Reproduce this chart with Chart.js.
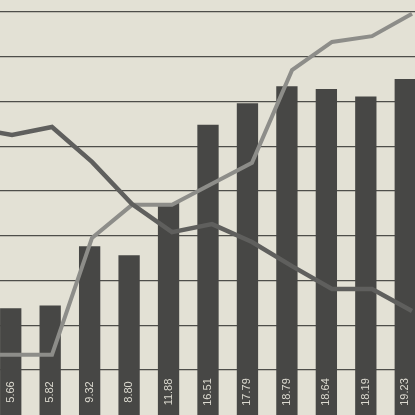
<!DOCTYPE html>
<html>
<head>
<meta charset="utf-8">
<script src="https://cdn.jsdelivr.net/npm/chart.js@4.4.0/dist/chart.umd.min.js"></script>
<style>
  html, body { margin: 0; padding: 0; width: 415px; height: 415px; overflow: hidden; background: #e3e1d5; }
  #grafico { position: absolute; left: -9px; top: 0; }
</style>
</head>
<body>
<canvas id="grafico" width="434" height="415"></canvas>
<script>
// datos
const periodos = ['1', '2', '3', '4', '5', '6', '7', '8', '9', '10', '11'];
const valoresBarras = [5.66, 5.82, 9.32, 8.80, 11.88, 16.51, 17.79, 18.79, 18.64, 18.19, 19.23];

// las líneas empiezan un punto antes del borde izquierdo
const posLineas = [-1, 0, 1, 2, 3, 4, 5, 6, 7, 8, 9, 10];
const serieOscura = [54.1, 52.5, 54.3, 46.5, 37.1, 30.8, 32.6, 28.6, 23.2, 18.1, 18.1, 13.2];
const serieClara = [3.4, 3.4, 3.4, 29.5, 36.9, 36.9, 41.6, 46.3, 67.0, 73.3, 74.6, 79.6];

const ticksRejilla = [0, 10, 20, 30, 40, 50, 60, 70, 80];

const minBarras = -0.66, maxBarras = 23.9;
const colorRejilla = '#4e4e4a';

const etiquetasBarras = {
  id: 'etiquetasBarras',
  afterDatasetsDraw(chart) {
    const ctx = chart.ctx;
    const meta = chart.getDatasetMeta(2);
    ctx.save();
    ctx.fillStyle = '#dcdad0';
    ctx.font = '11px "Liberation Sans", Arial, sans-serif';
    ctx.textAlign = 'center';
    ctx.textBaseline = 'middle';
    meta.data.forEach((bar, i) => {
      ctx.save();
      ctx.translate(bar.x, 392);
      ctx.rotate(-Math.PI / 2);
      ctx.fillText(valoresBarras[i].toFixed(2), 0, 0);
      ctx.restore();
    });
    ctx.restore();
  }
};

const ctx = document.getElementById('grafico').getContext('2d');
new Chart(ctx, {
  data: {
    labels: periodos,
    datasets: [
      {
        type: 'line',
        data: posLineas.map((x, i) => ({ x, y: serieOscura[i] })),
        xAxisID: 'x2', yAxisID: 'y2',
        borderColor: '#5f5f5d', borderWidth: 4.5,
        pointRadius: 0, tension: 0, order: 0
      },
      {
        type: 'line',
        data: posLineas.map((x, i) => ({ x, y: serieClara[i] })),
        xAxisID: 'x2', yAxisID: 'y2',
        borderColor: '#8d8d89', borderWidth: 4,
        pointRadius: 0, tension: 0, order: 1
      },
      {
        type: 'bar',
        data: valoresBarras,
        xAxisID: 'x', yAxisID: 'y',
        backgroundColor: '#474745',
        base: minBarras,
        grouped: false,
        categoryPercentage: 1, barPercentage: 0.54,
        order: 2
      }
    ]
  },
  options: {
    responsive: false,
    animation: false,
    layout: { padding: 0 },
    plugins: { legend: { display: false }, tooltip: { enabled: false } },
    scales: {
      x: { type: 'category', display: false, offset: true },
      y: { display: false, min: minBarras, max: maxBarras },
      x2: { type: 'linear', display: false, min: -0.525, max: 10.325 },
      y2: {
        position: 'right',
        min: -10.06, max: 82.68,
        z: 1,
        afterBuildTicks: s => { s.ticks = ticksRejilla.map(v => ({ value: v })); },
        afterFit: s => { s.width = 0; },
        ticks: { display: false },
        border: { display: false },
        grid: { color: colorRejilla, lineWidth: 1.2, drawTicks: false }
      }
    }
  },
  plugins: [etiquetasBarras]
});
</script>
</body>
</html>
